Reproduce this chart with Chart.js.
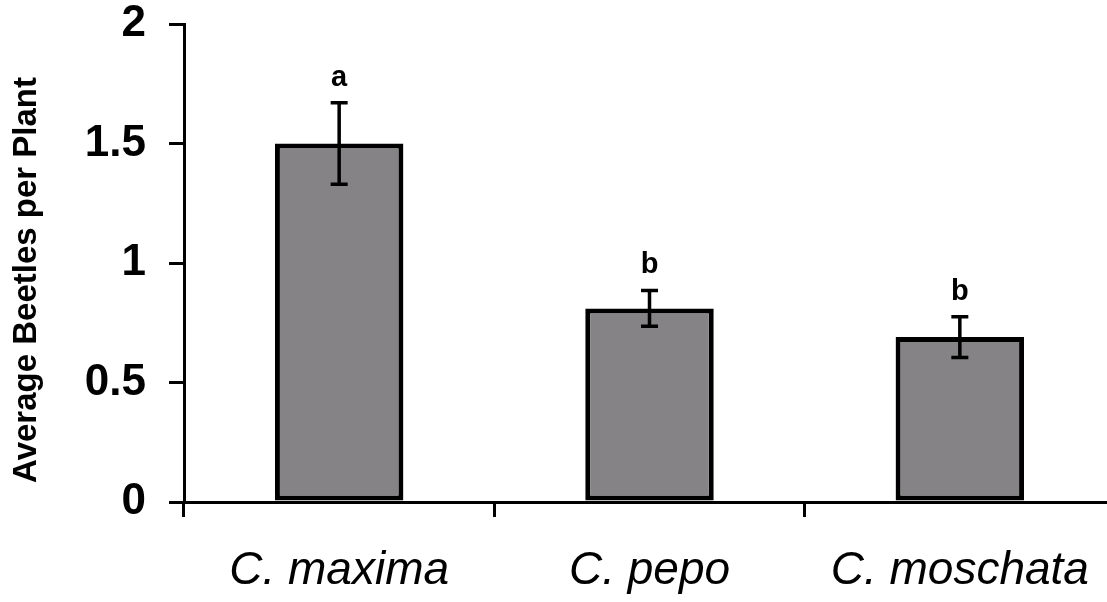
<!DOCTYPE html>
<html lang="en">
<head>
    <meta charset="UTF-8">
    <title>Average Beetles per Plant</title>
    <script src="https://cdn.jsdelivr.net/npm/chart.js"></script>
    <style>
        html, body { margin: 0; padding: 0; background: #fff; overflow: hidden; }
    </style>
</head>
<body>
    <canvas id="beetleChart" width="1115" height="602"></canvas>
    <script>
        // data
        var species = ['C. maxima', 'C. pepo', 'C. moschata'];
        var meanBeetles = [1.50, 0.81, 0.69];
        var stdError = [0.17, 0.075, 0.085];
        var groupLetters = ['a', 'b', 'b'];
        var yTicks = [0, 0.5, 1, 1.5, 2];

        var FONT = '"Liberation Sans", Arial, sans-serif';

        // error bars + significance letters, placed through the y scale
        var errorBarPlugin = {
            id: 'errorBars',
            afterDatasetsDraw: function(chart) {
                var ctx = chart.ctx;
                var y = chart.scales.y;
                var meta = chart.getDatasetMeta(0);
                ctx.save();
                ctx.strokeStyle = '#000';
                ctx.lineWidth = 3.5;
                meta.data.forEach(function(bar, i) {
                    var top = y.getPixelForValue(meanBeetles[i] + stdError[i]);
                    var bot = y.getPixelForValue(meanBeetles[i] - stdError[i]);
                    ctx.beginPath();
                    ctx.moveTo(bar.x, top);
                    ctx.lineTo(bar.x, bot);
                    ctx.moveTo(bar.x - 8.5, top);
                    ctx.lineTo(bar.x + 8.5, top);
                    ctx.moveTo(bar.x - 8.5, bot);
                    ctx.lineTo(bar.x + 8.5, bot);
                    ctx.stroke();

                    ctx.fillStyle = '#000';
                    ctx.font = 'bold 29px ' + FONT;
                    ctx.textAlign = 'center';
                    ctx.textBaseline = 'alphabetic';
                    ctx.fillText(groupLetters[i], bar.x, top - 17);
                });
                ctx.restore();
            }
        };

        // y title drawn by hand so it sits where Excel put it
        var yTitlePlugin = {
            id: 'yTitle',
            afterDraw: function(chart) {
                var ctx = chart.ctx;
                ctx.save();
                ctx.translate(27, 280);
                ctx.rotate(-Math.PI / 2);
                ctx.fillStyle = '#000';
                ctx.font = 'bold 33px ' + FONT;
                ctx.textAlign = 'center';
                ctx.textBaseline = 'middle';
                ctx.fillText('Average Beetles per Plant', 0, 0);
                ctx.restore();
            }
        };

        var ctx = document.getElementById('beetleChart').getContext('2d');
        var chart = new Chart(ctx, {
            type: 'bar',
            data: {
                labels: species,
                datasets: [{
                    data: meanBeetles,
                    backgroundColor: '#858385',
                    borderColor: '#000',
                    borderWidth: 5,
                    borderSkipped: false,
                    barPercentage: 0.414,
                    categoryPercentage: 1.0
                }]
            },
            options: {
                responsive: false,
                animation: false,
                layout: { padding: { top: 24, right: 0, left: 0, bottom: 0 } },
                plugins: {
                    legend: { display: false },
                    tooltip: { enabled: false }
                },
                scales: {
                    x: {
                        offset: true,
                        afterFit: function(scale) {
                            scale.height = 100;
                            scale.paddingLeft = 0;
                            scale.paddingRight = 0;
                        },
                        grid: {
                            offset: true,
                            drawOnChartArea: false,
                            drawTicks: true,
                            tickLength: 15,
                            lineWidth: 3,
                            color: '#000'
                        },
                        border: { display: true, color: '#000', width: 3 },
                        ticks: {
                            color: '#000',
                            padding: 27,
                            maxRotation: 0,
                            autoSkip: false,
                            font: { family: FONT, size: 46, style: 'italic' }
                        }
                    },
                    y: {
                        min: 0,
                        max: 2,
                        afterFit: function(scale) {
                            scale.width = 184;
                            scale.paddingTop = 0;
                            scale.paddingBottom = 0;
                        },
                        afterBuildTicks: function(scale) {
                            scale.ticks = yTicks.map(function(v) { return { value: v }; });
                        },
                        grid: {
                            drawOnChartArea: false,
                            drawTicks: true,
                            tickLength: 15,
                            lineWidth: 3,
                            color: '#000'
                        },
                        border: { display: true, color: '#000', width: 3 },
                        ticks: {
                            color: '#000',
                            padding: 23,
                            font: { family: FONT, size: 44, weight: 'bold' },
                            callback: function(v) { return String(v); }
                        }
                    }
                }
            },
            plugins: [errorBarPlugin, yTitlePlugin]
        });
    </script>
</body>
</html>
